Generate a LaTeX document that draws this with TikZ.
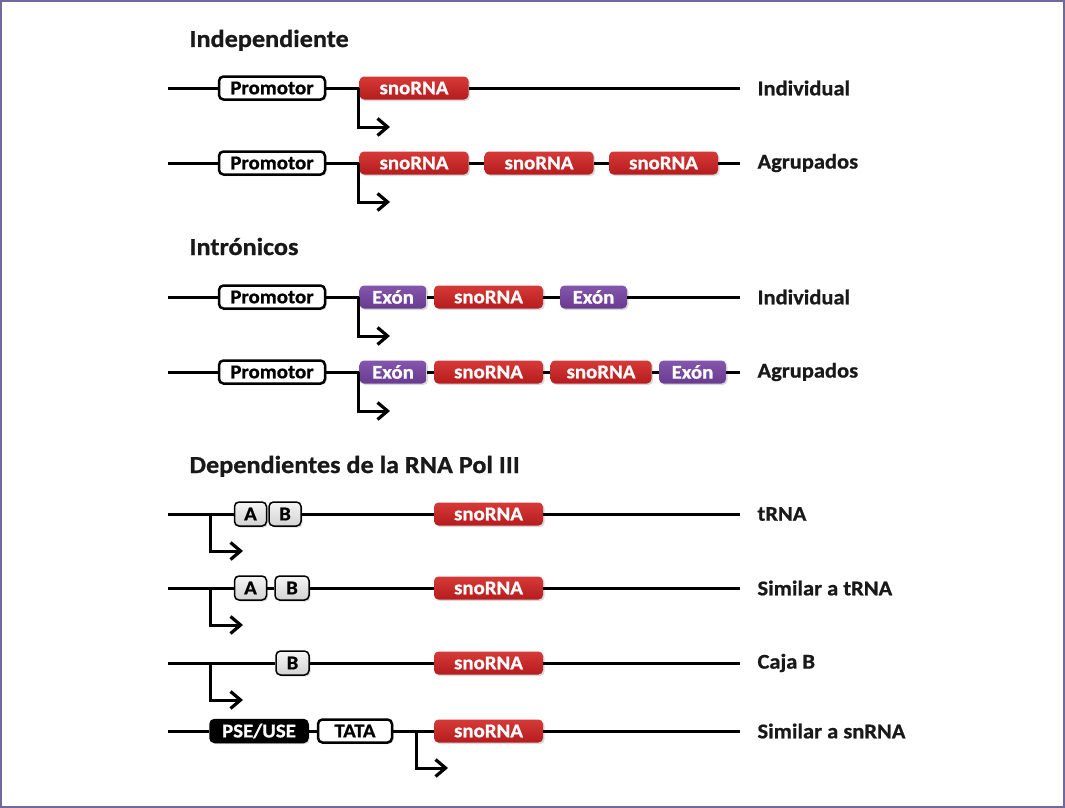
\documentclass[tikz,border=0pt]{standalone}
\usepackage{fontspec}
\setmainfont{Carlito}[FakeStretch=1.07,BoldFeatures={FakeBold=0.8}]
\usetikzlibrary{arrows.meta,shadows}
\definecolor{snoredtop}{RGB}{214,58,56}
\definecolor{snoredbot}{RGB}{182,28,30}
\definecolor{exontop}{RGB}{132,86,172}
\definecolor{exonbot}{RGB}{104,58,144}
\definecolor{frame}{RGB}{112,104,158}
\begin{document}
\begin{tikzpicture}[x=1pt,y=-1pt,
  dna/.style={line width=3pt,black},
  tss/.style={line width=3pt,black,-{Straight Barb[length=10pt,width=17pt,line width=3.2pt]}},
  boxbase/.style={rounded corners=4.5pt,minimum height=23pt,inner sep=0pt,
    font=\bfseries\fontsize{19.5}{21}\selectfont,
    drop shadow={shadow xshift=1.5pt,shadow yshift=-1.5pt,opacity=0.3}},
  redbox/.style={boxbase,top color=snoredtop,bottom color=snoredbot,text=white,minimum width=109pt},
  exonbox/.style={boxbase,top color=exontop,bottom color=exonbot,text=white,minimum width=67pt},
  promo/.style={boxbase,draw=black,line width=2.5pt,fill=white,text=black,minimum width=106pt},
  graybox/.style={boxbase,draw=black,line width=1.5pt,top color=gray!8,bottom color=gray!35,text=black,minimum height=24pt,minimum width=32pt},
  blackbox/.style={boxbase,fill=black,draw=black,line width=1.5pt,text=white,minimum width=98pt},
  sidelabel/.style={anchor=west,font=\bfseries\fontsize{21}{23}\selectfont,text=black!90},
  title/.style={anchor=base west,font=\bfseries\fontsize{24.5}{27}\selectfont,text=black!90}
]
\useasboundingbox (0,0) rectangle (1065,808);
\fill[white] (0,0) rectangle (1065,808);
\draw[frame,line width=2pt] (1,1) rectangle (1064,807);

% ---------- titles
\node[title] (ti1) at (186,47) {Independiente};
\node[title] (ti2) at (186,255) {Intrónicos};
\node[title] (ti3) at (186,473) {Dependientes de la RNA Pol III};

% ---------- row 1
\coordinate (r1s) at (168,88); \coordinate (r1e) at (740,88);
\node[promo] (p1) at (272,88) {Promotor};
\node[redbox] (s11) at (414,88) {snoRNA};
\draw[dna] (r1s) -- (p1.west);
\draw[dna] (p1.east) -- (s11.west);
\draw[dna] (s11.east) -- (r1e);
\coordinate (t1) at (358,88); \coordinate (t1e) at (390,127);
\draw[tss] (t1) |- (t1e);
\node[sidelabel] (l1) at (754,88) {Individual};

% ---------- row 2
\coordinate (r2s) at (168,163); \coordinate (r2e) at (740,163);
\node[promo] (p2) at (272,163) {Promotor};
\node[redbox] (s21) at (414,163) {snoRNA};
\node[redbox] (s22) at (539,163) {snoRNA};
\node[redbox] (s23) at (663.5,163) {snoRNA};
\draw[dna] (r2s) -- (p2.west);
\draw[dna] (p2.east) -- (s21.west);
\draw[dna] (s21.east) -- (s22.west);
\draw[dna] (s22.east) -- (s23.west);
\draw[dna] (s23.east) -- (r2e);
\coordinate (t2) at (358,163); \coordinate (t2e) at (390,202);
\draw[tss] (t2) |- (t2e);
\node[sidelabel] (l2) at (754,163) {Agrupados};

% ---------- row 3
\coordinate (r3s) at (168,297); \coordinate (r3e) at (740,297);
\node[promo] (p3) at (272,297) {Promotor};
\node[exonbox] (e31) at (393,297) {Exón};
\node[redbox] (s31) at (488.5,297) {snoRNA};
\node[exonbox] (e32) at (593.5,297) {Exón};
\draw[dna] (r3s) -- (p3.west);
\draw[dna] (p3.east) -- (e31.west);
\draw[dna] (e31.east) -- (s31.west);
\draw[dna] (s31.east) -- (e32.west);
\draw[dna] (e32.east) -- (r3e);
\coordinate (t3) at (358,297); \coordinate (t3e) at (390,336);
\draw[tss] (t3) |- (t3e);
\node[sidelabel] (l3) at (754,297) {Individual};

% ---------- row 4
\coordinate (r4s) at (168,372); \coordinate (r4e) at (740,372);
\node[promo] (p4) at (272,372) {Promotor};
\node[exonbox] (e41) at (393,372) {Exón};
\node[redbox] (s41) at (488.5,372) {snoRNA};
\node[redbox,minimum width=101pt] (s42) at (601,372) {snoRNA};
\node[exonbox] (e42) at (692.5,372) {Exón};
\draw[dna] (r4s) -- (p4.west);
\draw[dna] (p4.east) -- (e41.west);
\draw[dna] (e41.east) -- (s41.west);
\draw[dna] (s41.east) -- (s42.west);
\draw[dna] (s42.east) -- (e42.west);
\draw[dna] (e42.east) -- (r4e);
\coordinate (t4) at (358,372); \coordinate (t4e) at (390,411);
\draw[tss] (t4) |- (t4e);
\node[sidelabel] (l4) at (754,372) {Agrupados};

% ---------- row 5
\coordinate (r5s) at (168,514); \coordinate (r5e) at (740,514);
\node[graybox] (a5) at (250.5,514) {A};
\node[graybox] (b5) at (285,514) {B};
\node[redbox] (s5) at (488.5,514) {snoRNA};
\draw[dna] (r5s) -- (a5.west);
\draw[dna] (b5.east) -- (s5.west);
\draw[dna] (s5.east) -- (r5e);
\coordinate (t5) at (210,514); \coordinate (t5e) at (243,551);
\draw[tss] (t5) |- (t5e);
\node[sidelabel] (l5) at (754,514) {tRNA};

% ---------- row 6
\coordinate (r6s) at (168,588); \coordinate (r6e) at (740,588);
\node[graybox] (a6) at (250.5,588) {A};
\node[graybox,minimum width=34pt] (b6) at (292,588) {B};
\node[redbox] (s6) at (488.5,588) {snoRNA};
\draw[dna] (r6s) -- (a6.west);
\draw[dna] (a6.east) -- (b6.west);
\draw[dna] (b6.east) -- (s6.west);
\draw[dna] (s6.east) -- (r6e);
\coordinate (t6) at (210,588); \coordinate (t6e) at (243,625);
\draw[tss] (t6) |- (t6e);
\node[sidelabel] (l6) at (754,588) {Similar a tRNA};

% ---------- row 7
\coordinate (r7s) at (168,663); \coordinate (r7e) at (740,663);
\node[graybox,minimum width=33pt] (b7) at (292.5,663) {B};
\node[redbox] (s7) at (488.5,663) {snoRNA};
\draw[dna] (r7s) -- (b7.west);
\draw[dna] (b7.east) -- (s7.west);
\draw[dna] (s7.east) -- (r7e);
\coordinate (t7) at (210,663); \coordinate (t7e) at (243,700);
\draw[tss] (t7) |- (t7e);
\node[sidelabel] (l7) at (754,663) {Caja B};

% ---------- row 8
\coordinate (r8s) at (168,731); \coordinate (r8e) at (740,731);
\node[blackbox] (pse) at (259,731) {PSE/USE};
\node[promo,minimum width=74pt] (tata) at (355,731) {TATA};
\node[redbox] (s8) at (488.5,731) {snoRNA};
\draw[dna] (r8s) -- (pse.west);
\draw[dna] (pse.east) -- (tata.west);
\draw[dna] (tata.east) -- (s8.west);
\draw[dna] (s8.east) -- (r8e);
\coordinate (t8) at (416,731); \coordinate (t8e) at (448,768);
\draw[tss] (t8) |- (t8e);
\node[sidelabel] (l8) at (754,731) {Similar a snRNA};
\end{tikzpicture}
\end{document}
